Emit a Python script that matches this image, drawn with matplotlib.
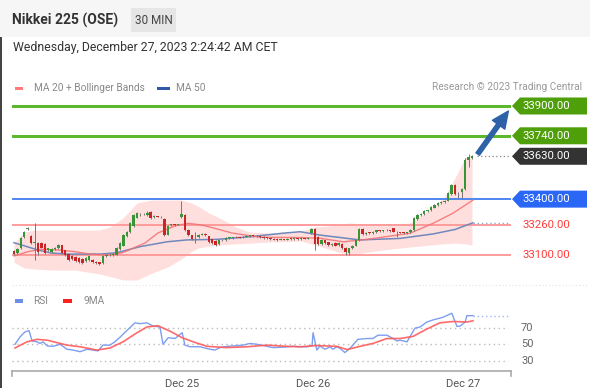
import numpy as np
import matplotlib.pyplot as plt
from matplotlib.patches import Rectangle, Polygon, FancyArrowPatch
from matplotlib.transforms import blended_transform_factory

plt.rcParams['font.family'] = ['Roboto', 'DejaVu Sans']

# ---- data (30 min bars, Nikkei 225 OSE) ----
opens = [33120, 33110, 33135, 33195, 33240, 33200, 33165, 33165, 33165, 33160,
         33125, 33115, 33130, 33138, 33152, 33125, 33105, 33095, 33090, 33085,
         33080, 33070, 33072, 33075, 33062, 33060, 33055, 33092, 33098, 33100,
         33102, 33130, 33150, 33200, 33223, 33255, 33300, 33320, 33318, 33315,
         33330, 33305, 33308, 33306, 33295, 33210, 33260, 33265, 33263, 33305,
         33315, 33234, 33205, 33195, 33195, 33210, 33212, 33200, 33185, 33175,
         33160, 33178, 33180, 33190, 33192, 33195, 33195, 33195, 33198, 33202,
         33205, 33200, 33203, 33198, 33192, 33192, 33188, 33186, 33182, 33184,
         33183, 33187, 33186, 33190, 33187, 33190, 33188, 33220, 33240, 33195,
         33160, 33178, 33168, 33155, 33165, 33155, 33160, 33140, 33112, 33135,
         33150, 33178, 33240, 33215, 33220, 33218, 33222, 33232, 33230, 33232,
         33233, 33243, 33225, 33222, 33220, 33218, 33222, 33232, 33295, 33315,
         33318, 33335, 33340, 33355, 33368, 33380, 33385, 33392, 33425, 33476,
         33430, 33440, 33455, 33610, 33620]
highs = [33125, 33135, 33195, 33228, 33250, 33205, 33272, 33170, 33170, 33165,
         33140, 33137, 33142, 33158, 33156, 33128, 33108, 33098, 33094, 33088,
         33084, 33090, 33099, 33078, 33066, 33063, 33098, 33104, 33106, 33110,
         33142, 33170, 33212, 33230, 33276, 33320, 33330, 33326, 33327, 33334,
         33335, 33314, 33312, 33310, 33300, 33262, 33266, 33268, 33268, 33390,
         33320, 33238, 33208, 33225, 33214, 33218, 33216, 33204, 33188, 33178,
         33182, 33186, 33194, 33195, 33198, 33201, 33199, 33201, 33205, 33208,
         33208, 33206, 33206, 33201, 33195, 33195, 33191, 33189, 33189, 33188,
         33191, 33190, 33194, 33193, 33194, 33193, 33196, 33245, 33246, 33200,
         33184, 33182, 33172, 33162, 33168, 33168, 33163, 33143, 33138, 33154,
         33182, 33244, 33246, 33224, 33224, 33229, 33236, 33236, 33236, 33237,
         33236, 33247, 33230, 33226, 33224, 33226, 33239, 33304, 33319, 33324,
         33339, 33344, 33362, 33372, 33384, 33389, 33396, 33437, 33480, 33480,
         33440, 33460, 33620, 33640, 33635]
lows = [33100, 33105, 33130, 33190, 33232, 33160, 33075, 33100, 33135, 33105,
        33120, 33110, 33125, 33132, 33108, 33094, 33070, 33072, 33064, 33058,
        33054, 33065, 33068, 33056, 33053, 33048, 33050, 33088, 33094, 33097,
        33098, 33126, 33146, 33196, 33218, 33250, 33296, 33312, 33314, 33310,
        33295, 33300, 33302, 33298, 33200, 33205, 33255, 33258, 33260, 33300,
        33230, 33202, 33180, 33165, 33190, 33205, 33200, 33166, 33160, 33148,
        33156, 33174, 33176, 33186, 33188, 33191, 33189, 33191, 33194, 33198,
        33196, 33196, 33192, 33188, 33186, 33180, 33178, 33176, 33178, 33178,
        33179, 33181, 33182, 33182, 33183, 33184, 33184, 33215, 33125, 33155,
        33156, 33160, 33148, 33150, 33146, 33150, 33134, 33100, 33100, 33130,
        33146, 33174, 33208, 33210, 33214, 33214, 33218, 33226, 33226, 33228,
        33226, 33221, 33195, 33216, 33214, 33214, 33218, 33228, 33290, 33311,
        33314, 33331, 33336, 33351, 33364, 33376, 33381, 33388, 33420, 33420,
        33405, 33405, 33450, 33575, 33615]
closes = [33108, 33132, 33190, 33222, 33244, 33165, 33170, 33116, 33140, 33110,
          33135, 33132, 33138, 33152, 33112, 33098, 33075, 33078, 33068, 33062,
          33058, 33085, 33095, 33060, 33057, 33052, 33095, 33100, 33102, 33106,
          33138, 33165, 33208, 33225, 33272, 33315, 33325, 33318, 33322, 33328,
          33300, 33310, 33306, 33302, 33210, 33258, 33262, 33263, 33265, 33320,
          33234, 33207, 33185, 33198, 33210, 33215, 33205, 33170, 33165, 33152,
          33178, 33182, 33190, 33192, 33195, 33198, 33192, 33198, 33202, 33205,
          33200, 33203, 33196, 33192, 33190, 33184, 33182, 33180, 33185, 33182,
          33187, 33185, 33190, 33186, 33190, 33188, 33192, 33240, 33160, 33160,
          33178, 33165, 33152, 33158, 33150, 33165, 33138, 33115, 33135, 33150,
          33178, 33240, 33212, 33220, 33218, 33225, 33232, 33230, 33232, 33233,
          33230, 33225, 33222, 33220, 33218, 33222, 33235, 33300, 33315, 33320,
          33335, 33340, 33358, 33368, 33380, 33385, 33392, 33433, 33476, 33425,
          33425, 33455, 33610, 33625, 33630]

# Bollinger band (MA 20) read at bar positions
band_x = [0, 3, 6, 11, 18, 25, 28, 32, 36, 40, 45, 49, 52, 54, 57, 60, 65, 69,
          75, 84, 88, 95, 98, 108, 116, 122, 126, 129, 132, 134]
band_upper = [33164, 33223, 33234, 33234, 33234, 33234, 33250, 33300, 33379,
              33395, 33395, 33395, 33379, 33360, 33326, 33300, 33250, 33223,
              33218, 33229, 33250, 33261, 33272, 33261, 33272, 33350, 33411,
              33513, 33621, 33637]
band_lower = [33062, 33030, 33025, 33019, 33019, 32998, 32985, 32966, 32966,
              33000, 33036, 33079, 33120, 33138, 33148, 33154, 33160, 33164,
              33170, 33175, 33154, 33116, 33100, 33127, 33143, 33154, 33160,
              33164, 33160, 33154]
ma20_x = [0, 4.1, 7.9, 12.9, 17.8, 22.5, 27.5, 31.3, 32.5, 38.3, 42.1, 47.1,
          50.9, 55, 58.8, 63.8, 72, 83.7, 89.5, 96.3, 103.3, 115.9, 122.6,
          128.4, 134.3]
ma20 = [33095, 33118, 33131, 33127, 33118, 33104, 33100, 33111, 33118, 33164,
        33218, 33256, 33270, 33261, 33243, 33218, 33195, 33194, 33190, 33171,
        33184, 33217, 33270, 33324, 33395]
ma50_x = [0, 7, 10.8, 15.5, 25.2, 30.1, 36.9, 44.8, 50.6, 59.4, 69, 78.7, 83.7,
          89.5, 101.2, 112.9, 122.6, 129, 134.3]
ma50 = [33166, 33127, 33111, 33105, 33105, 33112, 33145, 33171, 33181, 33184,
        33198, 33217, 33225, 33207, 33181, 33189, 33213, 33237, 33273]

# RSI panel
rsi_x = [0.3, 1.8, 3.2, 4.4, 5.3, 6.7, 7.6, 8.5, 9.7, 11.4, 13.5, 15.5, 17.3,
         19.3, 21.4, 23.1, 24.6, 26.0, 28.1, 29.5, 31.0, 33.1, 35.4, 36.9, 38.9,
         40.7, 42.7, 43.6, 45.1, 47.1, 49.2, 50.0, 51.5, 54.4, 57.3, 58.8, 60.3,
         62.3, 64.1, 67.0, 69.0, 71.1, 74.0, 75.8, 78.7, 81.6, 83.7, 85.7, 87.2,
         87.5, 88.6, 89.5, 91.0, 92.5, 93.3, 94.5, 95.4, 96.8, 98.3, 100.6,
         103.3, 105.0, 106.5, 109.1, 110.9, 112.1, 112.9, 115.0, 117.3, 118.8,
         120.8, 122.6, 125.5, 128.1, 129.6, 130.5, 132.0, 132.5, 134.3]
rsi = [50, 59, 65, 66.5, 54, 53, 51, 53, 48, 47.5, 50, 44, 43, 41, 44, 43, 42,
       49, 49, 53, 58.5, 67, 76, 75, 76, 72, 71, 50, 58, 57, 64, 49, 47, 47, 44,
       43, 46, 47.5, 48, 49, 51, 50, 47.5, 46, 46.5, 47.5, 47, 47, 48, 64, 43,
       48, 44, 47, 44, 47, 45, 40, 45, 56, 57, 57, 61, 61, 57, 54, 55, 53, 69.5,
       71, 77, 79.5, 82.7, 87.6, 71.6, 72, 77, 84.7, 84.7]
ma9_x = [0.3, 3.8, 6.7, 9.7, 12.6, 15.5, 19.3, 24.3, 28.1, 31.9, 36.0, 38.9,
         42.1, 45.6, 49.2, 52.4, 56.5, 62.3, 68.2, 74.0, 79.9, 83.7, 88.6, 94.5,
         97.4, 101.2, 105.0, 109.1, 112.9, 116.7, 120.8, 124.6, 128.4, 132.5,
         134.3]
ma9 = [45.5, 53, 56, 55, 52, 49, 47, 43, 45.5, 53, 64, 71, 72.5, 66, 58, 53,
       47.5, 46, 47, 49, 47.5, 47, 48.5, 47.5, 43.6, 47.5, 51, 57, 57, 59.5,
       68.5, 76, 77.6, 77, 78.5]

resistances = [33900, 33740]
support_strong = 33400
supports = [33260, 33100]
target = 33900
tick_pos = [49.2, 87.5, 131.4]
tick_labels = ['Dec 25', 'Dec 26', 'Dec 27']
rsi_levels = [70, 50, 30]

# ---- figure ----
W, H = 590, 388
fig = plt.figure(figsize=(W / 100, H / 100), dpi=100)
fig.patch.set_facecolor('white')


def fx(px):
    return px / W


def fy(py):
    return 1 - py / H


# header strip and left border
fig.patches.append(Rectangle((0, fy(37)), 1, 37 / H, transform=fig.transFigure,
                             fc='#f6f6f6', ec='none', zorder=0))
fig.patches.append(Rectangle((0, 0), fx(1.5), fy(37), transform=fig.transFigure,
                             fc='#444444', ec='none', zorder=0))
fig.text(fx(12), fy(20), 'Nikkei 225 (OSE)', fontsize=10, fontweight='bold',
         color='#333333', va='center')
fig.patches.append(Rectangle((fx(131), fy(32)), fx(45), 24 / H, transform=fig.transFigure,
                             fc='#e6e6e6', ec='none', zorder=1))
fig.text(fx(153.5), fy(20), '30 MIN', fontsize=8.5, color='#444444', ha='center', va='center')
fig.text(fx(13), fy(48), 'Wednesday, December 27, 2023 2:24:42 AM CET', fontsize=8.8,
         color='#333333', va='center')

# legends
fig.patches.append(Rectangle((fx(15), fy(90)), fx(8), 3.5 / H, transform=fig.transFigure,
                             fc='#ff7b7b', ec='none'))
fig.text(fx(34), fy(88), 'MA 20 + Bollinger Bands', fontsize=7.3, color='#888888', va='center')
fig.patches.append(Rectangle((fx(157), fy(90)), fx(13), 3.5 / H, transform=fig.transFigure,
                             fc='#2f58a8', ec='none'))
fig.text(fx(176), fy(88), 'MA 50', fontsize=7.3, color='#888888', va='center')
fig.text(fx(582), fy(87), 'Research \u00a9 2023 Trading Central', fontsize=7.3,
         color='#999999', ha='right', va='center')

fig.patches.append(Rectangle((fx(15), fy(302.5)), fx(8), 3.5 / H, transform=fig.transFigure,
                             fc='#6f8fe6', ec='none'))
fig.text(fx(33), fy(300.7), 'RSI', fontsize=7.3, color='#888888', va='center')
fig.patches.append(Rectangle((fx(63), fy(302.5)), fx(9), 3.5 / H, transform=fig.transFigure,
                             fc='#ff2020', ec='none'))
fig.text(fx(83), fy(300.7), '9MA', fontsize=7.3, color='#888888', va='center')
fig.lines.append(plt.Line2D([fx(12), fx(587)], [fy(285), fy(285)], transform=fig.transFigure,
                            color='#e4e4e4', lw=0.8, ls=(0, (1, 2))))

# ---- main price panel ----
n = len(closes)
x = np.arange(n)
xlim = (-0.585, 145.41)
ax = fig.add_axes([fx(12), fy(285), fx(511) - fx(12), (285 - 95) / H])
ax.set_xlim(*xlim)
ax.set_ylim(32939, 33959)
ax.axis('off')

ax.fill_between(band_x, band_upper, band_lower, color='#ffdede', lw=0, zorder=1)

for lv in resistances:
    ax.axhline(lv, color='#5cb82f', lw=2.2, zorder=2)
ax.axhline(support_strong, color='#4f86f0', lw=1.4, zorder=2)
for lv in supports:
    ax.axhline(lv, color='#ff9c9c', lw=1.4, zorder=2)

ax.plot(ma50_x, ma50, color='#7088bb', lw=1.1, zorder=3)
ax.plot(ma20_x, ma20, color='#f27070', lw=1.0, alpha=0.85, zorder=3)
ax.plot([ma50_x[-1], xlim[1]], [ma50[-1], ma50[-1]], color='#8fa5cc', lw=1,
        ls=(0, (1, 2)), zorder=3)

o = np.array(opens)
c = np.array(closes)
up = c >= o
colors = np.where(up, '#379437', '#cc2424')
ax.vlines(x, lows, highs, color='#777777', lw=0.7, zorder=4)
ax.bar(x, np.maximum(np.abs(c - o), 4), bottom=np.minimum(o, c), width=0.72,
       color=colors, lw=0, zorder=5)

ax.plot([n - 1 + 1.5, xlim[1]], [closes[-1], closes[-1]], color='#888888', lw=0.9,
        ls=(0, (1, 2)), zorder=3)

arrow = FancyArrowPatch((n - 1 + 1.2, closes[-1]), (xlim[1] - 0.3, target - 15),
                        arrowstyle='simple,head_length=1.1,head_width=1.0,tail_width=0.28',
                        mutation_scale=11, color='#2d62a8', zorder=6, clip_on=False)
ax.add_patch(arrow)

# price tags on the right
blend = blended_transform_factory(fig.transFigure, ax.transData)
hh = 8.5 / 0.18625


def tag(level, fc):
    pts = [(fx(512), level), (fx(520), level + hh), (fx(587), level + hh),
           (fx(587), level - hh), (fx(520), level - hh)]
    ax.add_patch(Polygon(pts, closed=True, transform=blend, fc=fc, ec='none', clip_on=False))
    ax.text(fx(522), level, f'{level:.2f}', transform=blend, color='white', fontsize=8.2,
            va='center', ha='left', clip_on=False)


for lv in resistances:
    tag(lv, '#4f9f0a')
tag(closes[-1], '#333333')
tag(support_strong, '#2b67f6')
for lv in supports:
    ax.text(fx(522), lv, f'{lv:.2f}', transform=blend, color='#ff3b3b', fontsize=8.2,
            va='center', ha='left', clip_on=False)

# ---- RSI panel ----
axr = fig.add_axes([fx(12), fy(370.7), fx(511) - fx(12), (370.7 - 305) / H])
axr.set_xlim(*xlim)
axr.set_ylim(18, 97.6)
for s in ['top', 'left', 'right']:
    axr.spines[s].set_visible(False)
axr.spines['bottom'].set_color('#aaaaaa')
axr.spines['bottom'].set_linewidth(1.2)
for xe in (0, 1):
    axr.plot([xe, xe], [0, -0.08], transform=axr.transAxes, color='#aaaaaa', lw=1.2,
             clip_on=False)
axr.set_yticks([])
axr.set_xticks(tick_pos, tick_labels)
axr.tick_params(axis='x', length=0, pad=6, labelsize=8, colors='#555555')

for lv in rsi_levels:
    axr.plot([xlim[0], 144.5], [lv, lv], color='#bbbbbb', lw=1, ls=(0, (1, 2.5)))
axr.plot(rsi_x, rsi, color='#7d9ef0', lw=1.0)
axr.plot(ma9_x, ma9, color='#ff5a5a', lw=1.2, alpha=0.9)
axr.plot([rsi_x[-1], xlim[1]], [rsi[-1], rsi[-1]], color='#9fb6f2', lw=1, ls=(0, (1, 2)))

blend_r = blended_transform_factory(fig.transFigure, axr.transData)
for lv in rsi_levels:
    axr.text(fx(521), lv, str(lv), transform=blend_r, fontsize=8, color='#666666',
             va='center', ha='left')

fig.savefig('out.png', dpi=100)
